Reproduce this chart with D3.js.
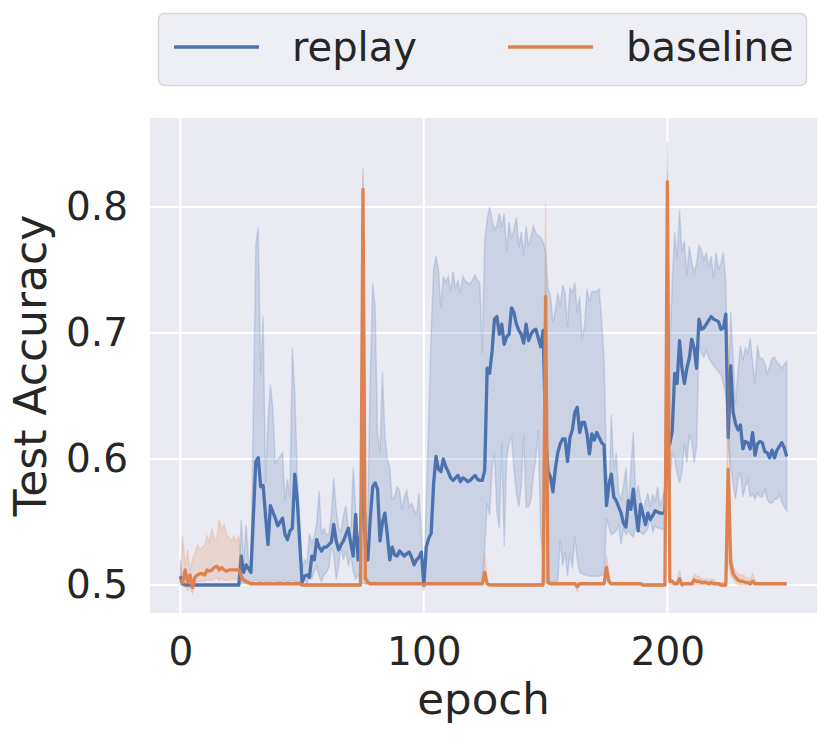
<!DOCTYPE html>
<html>
<head>
<meta charset="utf-8">
<script src="https://cdn.jsdelivr.net/npm/d3@7"></script>
<style>
  body { margin: 0; background: #fff; }
  text { font-family: "DejaVu Sans", sans-serif; fill: #262626; }
</style>
</head>
<body>
<div id="chart"></div>
<script>
// test accuracy per epoch (0..249)
var replayMean = [
  0.507,0.501,0.500,0.500,0.500,0.500,0.500,0.500,0.500,0.500,
  0.500,0.500,0.500,0.500,0.500,0.500,0.500,0.500,0.500,0.500,
  0.500,0.500,0.500,0.500,0.500,0.523,0.510,0.516,0.513,0.510,
  0.555,0.598,0.601,0.578,0.579,0.555,0.532,0.563,0.558,0.553,
  0.547,0.550,0.553,0.540,0.536,0.543,0.545,0.588,0.568,0.535,
  0.502,0.507,0.508,0.506,0.523,0.520,0.536,0.530,0.527,0.530,
  0.530,0.532,0.534,0.548,0.535,0.528,0.532,0.535,0.540,0.545,
  0.533,0.523,0.556,0.520,0.540,0.600,0.530,0.520,0.553,0.578,
  0.581,0.576,0.535,0.550,0.557,0.540,0.520,0.530,0.524,0.523,
  0.527,0.525,0.523,0.525,0.526,0.522,0.516,0.520,0.522,0.526,
  0.500,0.530,0.537,0.541,0.580,0.602,0.592,0.590,0.600,0.594,
  0.590,0.585,0.583,0.585,0.587,0.582,0.585,0.584,0.582,0.583,
  0.585,0.587,0.584,0.583,0.583,0.591,0.672,0.668,0.685,0.711,
  0.713,0.699,0.707,0.691,0.697,0.699,0.720,0.716,0.707,0.702,
  0.699,0.692,0.707,0.694,0.699,0.702,0.703,0.696,0.689,0.702,
  0.620,0.590,0.586,0.574,0.592,0.605,0.612,0.616,0.616,0.598,
  0.617,0.623,0.637,0.641,0.621,0.629,0.629,0.620,0.604,0.620,
  0.615,0.621,0.617,0.613,0.611,0.563,0.580,0.588,0.570,0.567,
  0.562,0.557,0.549,0.546,0.567,0.560,0.576,0.558,0.543,0.564,
  0.556,0.548,0.557,0.552,0.555,0.559,0.558,0.557,0.557,0.557,
  0.620,0.612,0.622,0.668,0.660,0.694,0.672,0.660,0.672,0.680,
  0.695,0.688,0.672,0.711,0.703,0.704,0.707,0.710,0.713,0.711,
  0.710,0.709,0.703,0.704,0.715,0.617,0.674,0.637,0.628,0.623,
  0.627,0.608,0.614,0.613,0.608,0.621,0.603,0.612,0.614,0.613,
  0.606,0.605,0.601,0.607,0.601,0.607,0.610,0.613,0.609,0.602
];
var replayUpper = [
  0.520,0.502,0.500,0.500,0.500,0.500,0.500,0.500,0.500,0.500,
  0.500,0.500,0.500,0.500,0.500,0.500,0.500,0.500,0.500,0.500,
  0.500,0.500,0.500,0.500,0.500,0.552,0.518,0.548,0.520,0.513,
  0.640,0.770,0.784,0.667,0.713,0.581,0.630,0.659,0.640,0.597,
  0.600,0.602,0.605,0.567,0.584,0.570,0.688,0.653,0.590,0.552,
  0.512,0.520,0.518,0.541,0.533,0.538,0.549,0.575,0.540,0.545,
  0.540,0.540,0.555,0.585,0.560,0.545,0.543,0.555,0.563,0.545,
  0.545,0.593,0.560,0.530,0.520,0.831,0.520,0.560,0.663,0.740,
  0.720,0.620,0.605,0.669,0.620,0.600,0.593,0.568,0.570,0.578,
  0.575,0.560,0.570,0.575,0.562,0.565,0.560,0.555,0.573,0.540,
  0.502,0.565,0.631,0.700,0.750,0.761,0.750,0.720,0.745,0.740,
  0.745,0.733,0.749,0.735,0.742,0.732,0.745,0.741,0.740,0.739,
  0.742,0.746,0.742,0.740,0.684,0.774,0.790,0.800,0.790,0.782,
  0.785,0.795,0.784,0.795,0.765,0.788,0.775,0.782,0.792,0.768,
  0.780,0.762,0.785,0.769,0.776,0.785,0.779,0.777,0.776,0.772,
  0.765,0.735,0.730,0.708,0.718,0.732,0.721,0.738,0.732,0.705,
  0.736,0.732,0.740,0.716,0.729,0.695,0.706,0.735,0.725,0.733,
  0.733,0.733,0.735,0.711,0.680,0.592,0.575,0.635,0.592,0.605,
  0.573,0.568,0.579,0.593,0.560,0.592,0.621,0.570,0.579,0.568,
  0.560,0.566,0.573,0.562,0.572,0.566,0.578,0.563,0.568,0.580,
  0.852,0.685,0.740,0.780,0.759,0.798,0.764,0.773,0.745,0.769,
  0.756,0.748,0.755,0.770,0.765,0.758,0.764,0.752,0.761,0.743,
  0.764,0.751,0.755,0.764,0.740,0.640,0.717,0.680,0.644,0.670,
  0.690,0.678,0.688,0.684,0.696,0.677,0.660,0.690,0.680,0.680,
  0.676,0.668,0.673,0.680,0.681,0.677,0.675,0.672,0.675,0.678
];
var replayLower = [
  0.500,0.500,0.500,0.500,0.500,0.500,0.500,0.500,0.500,0.500,
  0.500,0.500,0.500,0.500,0.500,0.500,0.500,0.500,0.500,0.500,
  0.500,0.500,0.500,0.500,0.500,0.501,0.502,0.501,0.502,0.501,
  0.503,0.504,0.503,0.502,0.504,0.503,0.502,0.503,0.504,0.503,
  0.503,0.502,0.503,0.504,0.502,0.503,0.504,0.503,0.502,0.503,
  0.500,0.505,0.500,0.510,0.505,0.511,0.515,0.507,0.503,0.508,
  0.510,0.514,0.530,0.525,0.504,0.515,0.530,0.520,0.527,0.515,
  0.524,0.511,0.505,0.508,0.502,0.501,0.501,0.502,0.501,0.502,
  0.502,0.501,0.502,0.501,0.502,0.501,0.502,0.501,0.502,0.501,
  0.502,0.501,0.502,0.501,0.502,0.501,0.502,0.501,0.502,0.501,
  0.499,0.501,0.502,0.501,0.502,0.501,0.502,0.501,0.502,0.501,
  0.502,0.501,0.502,0.501,0.502,0.501,0.502,0.501,0.502,0.501,
  0.502,0.501,0.502,0.501,0.502,0.530,0.565,0.555,0.592,0.605,
  0.558,0.545,0.613,0.531,0.600,0.613,0.618,0.592,0.573,0.562,
  0.578,0.619,0.562,0.562,0.567,0.588,0.600,0.623,0.540,0.518,
  0.502,0.503,0.503,0.503,0.503,0.503,0.536,0.515,0.526,0.507,
  0.526,0.513,0.539,0.520,0.510,0.509,0.508,0.508,0.507,0.507,
  0.507,0.507,0.507,0.508,0.508,0.553,0.546,0.540,0.541,0.543,
  0.547,0.532,0.545,0.540,0.543,0.540,0.538,0.546,0.542,0.542,
  0.540,0.542,0.545,0.553,0.542,0.547,0.545,0.545,0.544,0.545,
  0.560,0.578,0.605,0.600,0.589,0.581,0.589,0.612,0.597,0.619,
  0.614,0.597,0.610,0.690,0.684,0.681,0.686,0.680,0.677,0.674,
  0.672,0.669,0.667,0.660,0.650,0.611,0.595,0.580,0.568,0.584,
  0.590,0.570,0.578,0.583,0.570,0.572,0.568,0.573,0.570,0.570,
  0.576,0.568,0.565,0.565,0.568,0.568,0.572,0.566,0.562,0.559
];
var baselineMean = [
  0.504,0.502,0.512,0.502,0.508,0.498,0.506,0.508,0.509,0.509,
  0.508,0.512,0.511,0.512,0.514,0.515,0.512,0.514,0.512,0.511,
  0.512,0.512,0.512,0.512,0.512,0.507,0.504,0.503,0.502,0.501,
  0.501,0.501,0.501,0.501,0.501,0.501,0.501,0.501,0.501,0.501,
  0.501,0.501,0.501,0.501,0.501,0.501,0.501,0.501,0.501,0.501,
  0.500,0.500,0.500,0.500,0.500,0.500,0.500,0.500,0.500,0.500,
  0.500,0.500,0.500,0.500,0.500,0.500,0.500,0.500,0.500,0.500,
  0.500,0.500,0.500,0.500,0.500,0.814,0.505,0.502,0.501,0.501,
  0.501,0.501,0.501,0.501,0.501,0.501,0.501,0.501,0.501,0.501,
  0.501,0.501,0.501,0.501,0.501,0.501,0.501,0.501,0.501,0.501,
  0.500,0.501,0.501,0.501,0.501,0.501,0.501,0.501,0.501,0.501,
  0.501,0.501,0.501,0.501,0.501,0.501,0.501,0.501,0.501,0.501,
  0.501,0.501,0.501,0.501,0.501,0.510,0.501,0.500,0.500,0.500,
  0.500,0.500,0.500,0.500,0.500,0.500,0.500,0.500,0.500,0.500,
  0.500,0.500,0.500,0.500,0.500,0.500,0.500,0.500,0.500,0.500,
  0.729,0.502,0.501,0.501,0.501,0.501,0.501,0.501,0.501,0.501,
  0.501,0.501,0.501,0.499,0.501,0.501,0.501,0.501,0.501,0.501,
  0.501,0.501,0.501,0.501,0.501,0.514,0.503,0.501,0.501,0.501,
  0.501,0.501,0.501,0.501,0.501,0.501,0.501,0.501,0.501,0.501,
  0.500,0.500,0.500,0.500,0.500,0.500,0.500,0.500,0.500,0.500,
  0.820,0.503,0.503,0.501,0.501,0.505,0.500,0.501,0.501,0.501,
  0.501,0.504,0.503,0.503,0.502,0.502,0.502,0.501,0.502,0.501,
  0.501,0.501,0.500,0.500,0.500,0.592,0.518,0.509,0.506,0.504,
  0.503,0.503,0.502,0.502,0.501,0.503,0.501,0.501,0.501,0.501,
  0.501,0.501,0.501,0.501,0.501,0.501,0.501,0.501,0.501,0.501
];
var baselineUpper = [
  0.505,0.539,0.515,0.528,0.511,0.520,0.525,0.532,0.529,0.529,
  0.532,0.539,0.534,0.545,0.537,0.536,0.552,0.543,0.548,0.540,
  0.538,0.535,0.539,0.534,0.539,0.510,0.505,0.504,0.503,0.502,
  0.502,0.502,0.502,0.502,0.502,0.502,0.502,0.502,0.502,0.502,
  0.502,0.502,0.502,0.502,0.502,0.502,0.502,0.502,0.502,0.502,
  0.501,0.501,0.501,0.501,0.501,0.501,0.501,0.501,0.501,0.501,
  0.501,0.501,0.501,0.501,0.501,0.501,0.501,0.501,0.501,0.501,
  0.501,0.501,0.501,0.501,0.501,0.826,0.510,0.504,0.502,0.502,
  0.502,0.502,0.502,0.502,0.502,0.502,0.502,0.502,0.502,0.502,
  0.502,0.502,0.502,0.502,0.502,0.502,0.502,0.502,0.502,0.502,
  0.501,0.502,0.502,0.502,0.502,0.502,0.502,0.502,0.502,0.502,
  0.502,0.502,0.502,0.502,0.502,0.502,0.502,0.502,0.502,0.502,
  0.502,0.502,0.502,0.502,0.502,0.526,0.503,0.501,0.501,0.501,
  0.501,0.501,0.501,0.501,0.501,0.501,0.501,0.501,0.501,0.501,
  0.501,0.501,0.501,0.501,0.501,0.501,0.501,0.501,0.501,0.501,
  0.803,0.504,0.502,0.502,0.502,0.502,0.502,0.502,0.502,0.502,
  0.502,0.502,0.502,0.502,0.502,0.502,0.502,0.502,0.502,0.502,
  0.502,0.502,0.502,0.502,0.502,0.524,0.506,0.502,0.502,0.502,
  0.502,0.502,0.502,0.502,0.502,0.502,0.502,0.502,0.502,0.502,
  0.501,0.501,0.501,0.501,0.501,0.501,0.501,0.501,0.501,0.501,
  0.827,0.506,0.504,0.502,0.503,0.512,0.502,0.502,0.502,0.502,
  0.502,0.509,0.507,0.507,0.505,0.504,0.505,0.504,0.505,0.504,
  0.502,0.502,0.502,0.502,0.502,0.705,0.530,0.514,0.511,0.509,
  0.508,0.508,0.506,0.506,0.504,0.509,0.504,0.502,0.502,0.502,
  0.502,0.502,0.502,0.502,0.502,0.502,0.502,0.502,0.502,0.502
];
var baselineLower = [
  0.503,0.499,0.499,0.496,0.498,0.493,0.500,0.503,0.503,0.503,
  0.503,0.504,0.504,0.504,0.505,0.506,0.504,0.505,0.504,0.504,
  0.504,0.505,0.504,0.505,0.504,0.503,0.502,0.501,0.500,0.500,
  0.500,0.500,0.500,0.500,0.500,0.500,0.500,0.500,0.500,0.500,
  0.500,0.500,0.500,0.500,0.500,0.500,0.500,0.500,0.500,0.500,
  0.499,0.499,0.499,0.499,0.499,0.499,0.499,0.499,0.499,0.499,
  0.499,0.499,0.499,0.499,0.499,0.499,0.499,0.499,0.499,0.499,
  0.499,0.499,0.499,0.499,0.499,0.800,0.500,0.500,0.500,0.500,
  0.500,0.500,0.500,0.500,0.500,0.500,0.500,0.500,0.500,0.500,
  0.500,0.500,0.500,0.500,0.500,0.500,0.500,0.500,0.500,0.500,
  0.496,0.500,0.500,0.500,0.500,0.500,0.500,0.500,0.500,0.500,
  0.500,0.500,0.500,0.500,0.500,0.500,0.500,0.500,0.500,0.500,
  0.500,0.500,0.500,0.500,0.500,0.500,0.500,0.500,0.500,0.500,
  0.499,0.499,0.499,0.499,0.499,0.499,0.499,0.499,0.499,0.499,
  0.499,0.499,0.499,0.499,0.499,0.499,0.499,0.499,0.499,0.499,
  0.660,0.500,0.500,0.500,0.500,0.500,0.500,0.500,0.500,0.500,
  0.500,0.500,0.500,0.495,0.500,0.500,0.500,0.500,0.500,0.500,
  0.500,0.500,0.500,0.500,0.500,0.505,0.500,0.500,0.500,0.500,
  0.500,0.500,0.500,0.500,0.500,0.500,0.500,0.500,0.500,0.500,
  0.499,0.499,0.499,0.499,0.499,0.499,0.499,0.499,0.499,0.499,
  0.812,0.500,0.500,0.500,0.500,0.500,0.500,0.500,0.500,0.500,
  0.500,0.500,0.500,0.500,0.500,0.500,0.500,0.500,0.500,0.500,
  0.500,0.500,0.499,0.499,0.499,0.520,0.508,0.505,0.502,0.500,
  0.500,0.500,0.500,0.500,0.500,0.500,0.500,0.500,0.500,0.500,
  0.500,0.500,0.500,0.500,0.500,0.500,0.500,0.500,0.500,0.500
];

var seriesNames = ['replay', 'baseline'];
var seriesColors = ['#4c72b0', '#dd8452'];
var xTicks = [0, 100, 200];
var yTicks = [0.5, 0.6, 0.7, 0.8];

var width = 831,
    height = 738;
var plotLeft = 150, plotRight = 817, plotTop = 118, plotBottom = 613;

var svg = d3.select('#chart').append('svg')
    .attr('width', width)
    .attr('height', height);

var x = d3.scaleLinear()
    .domain([-12.45, 261.45])
    .range([plotLeft, plotRight]);
var y = d3.scaleLinear()
    .domain([0.4778, 0.8706])
    .range([plotBottom, plotTop]);

// axes background
svg.append('rect')
    .attr('x', plotLeft)
    .attr('y', plotTop)
    .attr('width', plotRight - plotLeft)
    .attr('height', plotBottom - plotTop)
    .style('fill', '#eaeaf2');

svg.append('clipPath')
    .attr('id', 'plotclip')
    .append('rect')
    .attr('x', plotLeft)
    .attr('y', plotTop)
    .attr('width', plotRight - plotLeft)
    .attr('height', plotBottom - plotTop);

// white grid
svg.append('g').selectAll('line')
    .data(xTicks)
    .enter().append('line')
    .attr('x1', d => x(d)).attr('x2', d => x(d))
    .attr('y1', plotTop).attr('y2', plotBottom)
    .style('stroke', '#fff')
    .style('stroke-width', 2);
svg.append('g').selectAll('line')
    .data(yTicks)
    .enter().append('line')
    .attr('x1', plotLeft).attr('x2', plotRight)
    .attr('y1', d => y(d)).attr('y2', d => y(d))
    .style('stroke', '#fff')
    .style('stroke-width', 2);

var series = [
  { mean: replayMean, lo: replayLower, hi: replayUpper },
  { mean: baselineMean, lo: baselineLower, hi: baselineUpper }
];

var line = d3.line()
    .x((d, i) => x(i))
    .y(d => y(d));

var band = d3.area()
    .x(d => x(d.epoch))
    .y0(d => y(d.lo))
    .y1(d => y(d.hi));

var plot = svg.append('g').attr('clip-path', 'url(#plotclip)');

series.forEach(function(s, k) {
    var pts = s.mean.map(function(v, i) {
        return { epoch: i, lo: s.lo[i], hi: s.hi[i] };
    });

    plot.append('path')
        .datum(s.mean)
        .attr('d', line)
        .style('fill', 'none')
        .style('stroke', seriesColors[k])
        .style('stroke-width', 3.3)
        .style('stroke-linejoin', 'round');

    plot.append('path')
        .datum(pts)
        .attr('d', band)
        .style('fill', seriesColors[k])
        .style('fill-opacity', 0.2)
        .style('stroke', seriesColors[k])
        .style('stroke-opacity', 0.2)
        .style('stroke-width', 1.5);
});

// tick labels
svg.append('g')
    .attr('transform', 'translate(0,' + plotBottom + ')')
    .call(d3.axisBottom(x).tickValues(xTicks).tickSize(0).tickPadding(24).tickFormat(d3.format('d')));
svg.append('g')
    .attr('transform', 'translate(' + plotLeft + ',0)')
    .call(d3.axisLeft(y).tickValues(yTicks).tickSize(0).tickPadding(22).tickFormat(d3.format('.1f')));
svg.selectAll('.domain').remove();
svg.selectAll('.tick text')
    .style('font-size', '39px')
    .style('font-family', '"DejaVu Sans", sans-serif')
    .style('fill', '#262626');

// axis titles
svg.append('text')
    .attr('x', (plotLeft + plotRight) / 2)
    .attr('y', 714)
    .attr('text-anchor', 'middle')
    .style('font-size', '43.5px')
    .text('epoch');
svg.append('text')
    .attr('transform', 'translate(46,' + (plotTop + plotBottom) / 2 + ') rotate(-90)')
    .attr('text-anchor', 'middle')
    .style('font-size', '44px')
    .text('Test Accuracy');

// legend
var legend = svg.append('g');
legend.append('rect')
    .attr('x', 158.5)
    .attr('y', 13.5)
    .attr('width', 648)
    .attr('height', 72)
    .attr('rx', 6)
    .style('fill', '#eeeef5')
    .style('stroke', '#d6d6d6')
    .style('stroke-width', 1.5);

var legendX = [174, 508];
var items = legend.selectAll('g.item')
    .data(seriesNames)
    .enter().append('g')
    .attr('class', 'item')
    .attr('transform', (d, i) => 'translate(' + legendX[i] + ',47)');
items.append('line')
    .attr('x1', 0).attr('x2', 85)
    .attr('y1', 0).attr('y2', 0)
    .style('stroke', (d, i) => seriesColors[i])
    .style('stroke-width', 3.3);
items.append('text')
    .attr('x', 118)
    .attr('y', 14)
    .style('font-size', '40px')
    .text(d => d);
</script>
</body>
</html>
